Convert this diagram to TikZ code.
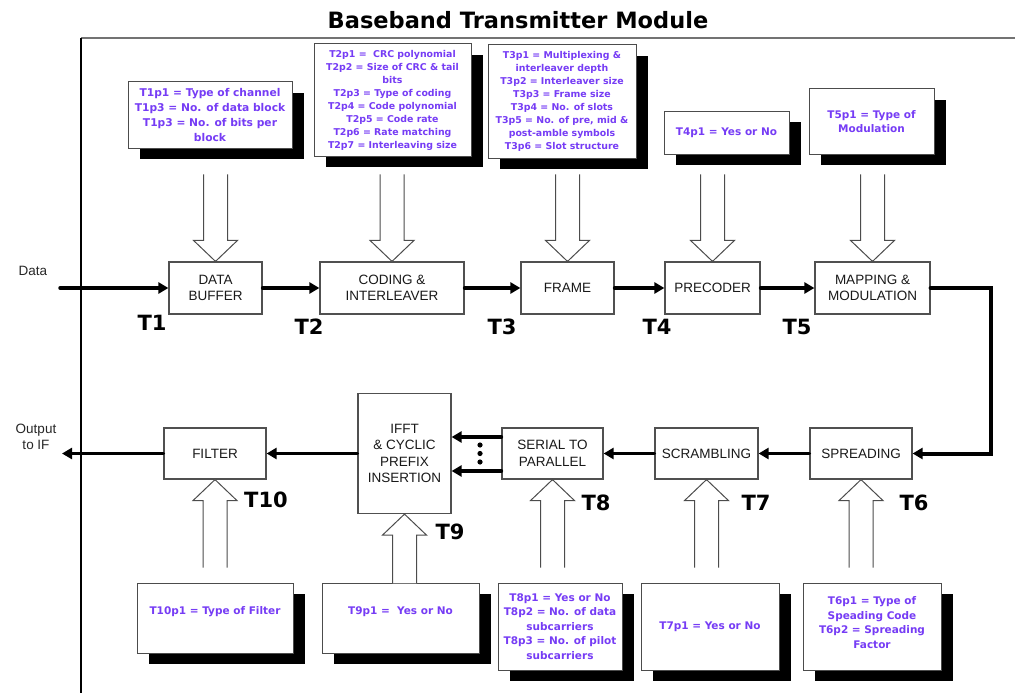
\documentclass[tikz,border=0pt]{standalone}
\usepackage{fontspec}
\setmainfont{Liberation Sans}
\newfontfamily\dejavu{DejaVu Sans}
\usetikzlibrary{arrows.meta,shadows}
\definecolor{ptxt}{RGB}{118,60,245}
\definecolor{edgegray}{RGB}{80,80,80}
\tikzset{
  blk/.style={draw=edgegray, line width=1.2pt, fill=white, align=center, inner sep=0pt,
    font=\fontsize{13.5}{16.5}\selectfont, text=black!90},
  param/.style={draw=black!70, line width=1pt, fill=white, align=center, inner sep=0pt,
    text=ptxt, font=\dejavu\bfseries\fontsize{10.5}{14.5}\selectfont,
    drop shadow={shadow xshift=12pt, shadow yshift=-11pt, opacity=1, fill=black}},
  ptext/.style={text=ptxt, align=center, font=\dejavu\bfseries\fontsize{10.5}{14.5}\selectfont},
  small/.style={font=\dejavu\bfseries\fontsize{9.4}{13}\selectfont},
  conn/.style={line width=3.5pt, line cap=round, -{Triangle[length=10pt,width=11pt]}},
  tlabel/.style={font=\dejavu\bfseries\fontsize{21}{21}\selectfont},
  hollow/.style={draw=black!70, line width=1pt, fill=white, line join=miter},
  hdown/.pic={\fill[white] (-12,0) -- (-12,66) -- (-22,66) -- (0,87) -- (22,66) -- (12,66) -- (12,0) -- cycle;
    \draw[hollow] (-12,0) -- (-12,66) -- (-22,66) -- (0,87) -- (22,66) -- (12,66) -- (12,0);},
  hup/.pic={\fill[white] (0,0) -- (22,21) -- (12,21) -- (12,#1) -- (-12,#1) -- (-12,21) -- (-22,21) -- cycle;
    \draw[hollow] (12,#1) -- (12,21) -- (22,21) -- (0,0) -- (-22,21) -- (-12,21) -- (-12,#1);}
}
\begin{document}
\begin{tikzpicture}[x=1pt,y=-1pt]
\useasboundingbox (0,0) rectangle (1015,693);
% frame
\draw[line width=2pt, black!55] (1015,38) -- (81,38);
\draw[line width=1.2pt, black] (81,38) -- (81,693);
\node[font=\dejavu\bfseries\fontsize{22.5}{22.5}\selectfont] (title) at (518,20) {Baseband Transmitter Module};

% parameter boxes (top)
\node[param, font=\dejavu\bfseries\fontsize{10.7}{15}\selectfont, minimum width=164pt, minimum height=66pt] (p1) at (210,115)
  {T1p1 = Type of channel\\T1p3 = No. of data block\\T1p3 = No. of bits per\\block};
\node[param, small, minimum width=157pt, minimum height=112pt] (p2) at (392.5,100)
  {T2p1 =\ \ CRC polynomial\\T2p2 = Size of CRC \& tail\\bits\\T2p3 = Type of coding\\T2p4 = Code polynomial\\T2p5 = Code rate\\T2p6 = Rate matching\\T2p7 = Interleaving size};
\node[param, small, minimum width=148pt, minimum height=113pt] (p3) at (562,101.5)
  {T3p1 = Multiplexing \&\\interleaver depth\\T3p2 = Interleaver size\\T3p3 = Frame size\\T3p4 = No. of slots\\T3p5 = No. of pre, mid \&\\post-amble symbols\\T3p6 = Slot structure};
\node[param, minimum width=125pt, minimum height=43pt] (p4) at (726.5,132.5) {T4p1 = Yes or No};
\node[param, minimum width=125pt, minimum height=65pt] (p5) at (871.5,121.5) {T5p1 = Type of\\Modulation};

% parameter boxes (bottom)
\node[param, minimum width=156pt, minimum height=70pt,
  label={[ptext, yshift=6pt]center:T10p1 = Type of Filter}] (p10) at (215,618) {};
\node[param, minimum width=157pt, minimum height=70pt,
  label={[ptext, yshift=6pt]center:T9p1 =\ \ Yes or No}] (p9) at (400.5,618) {};
\node[param, minimum width=124pt, minimum height=87pt] (p8) at (560,626.5)
  {T8p1 = Yes or No\\T8p2 = No. of data\\subcarriers\\T8p3 = No. of pilot\\subcarriers};
\node[param, minimum width=138pt, minimum height=87pt] (p7) at (710,626.5) {T7p1 = Yes or No};
\node[param, minimum width=138pt, minimum height=87pt,
  label={[ptext, yshift=4pt]center:T6p1 = Type of\\Speading Code\\T6p2 = Spreading\\Factor}] (p6) at (872,626.5) {};

% blocks top
\node[blk, minimum width=93pt, minimum height=52pt] (buf) at (215.5,288) {DATA\\BUFFER};
\node[blk, minimum width=144pt, minimum height=52pt] (cod) at (392,288) {CODING \&\\INTERLEAVER};
\node[blk, minimum width=93pt, minimum height=52pt] (frm) at (567.5,288) {FRAME};
\node[blk, minimum width=95pt, minimum height=52pt] (pre) at (712.5,288) {PRECODER};
\node[blk, minimum width=115pt, minimum height=52pt] (map) at (872.5,288) {MAPPING \&\\MODULATION};

% blocks bottom
\node[blk, minimum width=102pt, minimum height=51pt] (fil) at (215,453.5) {FILTER};
\node[blk, minimum width=93pt, minimum height=120pt] (ifft) at (404.5,453.5) {IFFT\\\& CYCLIC\\PREFIX\\INSERTION};
\node[blk, minimum width=101pt, minimum height=51pt] (sp) at (552.5,453.5) {SERIAL TO\\PARALLEL};
\node[blk, minimum width=103pt, minimum height=51pt] (scr) at (706.5,453.5) {SCRAMBLING};
\node[blk, minimum width=102pt, minimum height=51pt] (spr) at (861,453.5) {SPREADING};

% hollow arrows (top)
\path (buf.north) ++(0,-87) pic {hdown};
\path (cod.north) ++(0,-87) pic {hdown};
\path (frm.north) ++(0,-87) pic {hdown};
\path (pre.north) ++(0,-87) pic {hdown};
\path (map.north) ++(0,-87) pic {hdown};
% hollow arrows (bottom)
\path (fil.south) pic {hup=88};
\path (ifft.south) pic {hup=69};
\path (sp.south) pic {hup=88};
\path (scr.south) pic {hup=88};
\path (spr.south) pic {hup=88};

% T labels
\node[tlabel] (t1) at (152,323) {T1};
\node[tlabel] (t2) at (309,327) {T2};
\node[tlabel] (t3) at (502,327) {T3};
\node[tlabel] (t4) at (657,327) {T4};
\node[tlabel] (t5) at (797,327) {T5};
\node[tlabel] (t6) at (914,503) {T6};
\node[tlabel] (t7) at (756,503) {T7};
\node[tlabel] (t8) at (596,503) {T8};
\node[tlabel] (t9) at (450,532) {T9};
\node[tlabel] (t10) at (266,500) {T10};

% side texts
\node[font=\fontsize{13.5}{16.5}\selectfont, text=black!85] (data) at (33,271) {Data};
\node[font=\fontsize{13.5}{16.5}\selectfont, text=black!85, align=center] (out) at (36,437) {Output\\to IF};

% connectors
\coordinate (din) at (60,288);
\coordinate (dout) at (62,453.5);
\coordinate (turn) at (991,288);
\draw[conn] (din) -- (buf.west);
\draw[conn] (buf.east) -- (cod.west);
\draw[conn] (cod.east) -- (frm.west);
\draw[conn] (frm.east) -- (pre.west);
\draw[conn] (pre.east) -- (map.west);
\draw[conn, line width=4pt] (map.east) -- (turn) |- (spr.east);
\draw[conn] (spr.west) -- (scr.east);
\draw[conn] (scr.west) -- (sp.east);
\draw[conn] (sp.west |- 0,437) -- (ifft.east |- 0,437);
\draw[conn] (sp.west |- 0,471) -- (ifft.east |- 0,471);
\draw[conn] (ifft.west) -- (fil.east);
\draw[conn] (fil.west) -- (dout);
\fill (480,445) circle (2.6pt) (480,453.5) circle (2.6pt) (480,462) circle (2.6pt);
\end{tikzpicture}
\end{document}
